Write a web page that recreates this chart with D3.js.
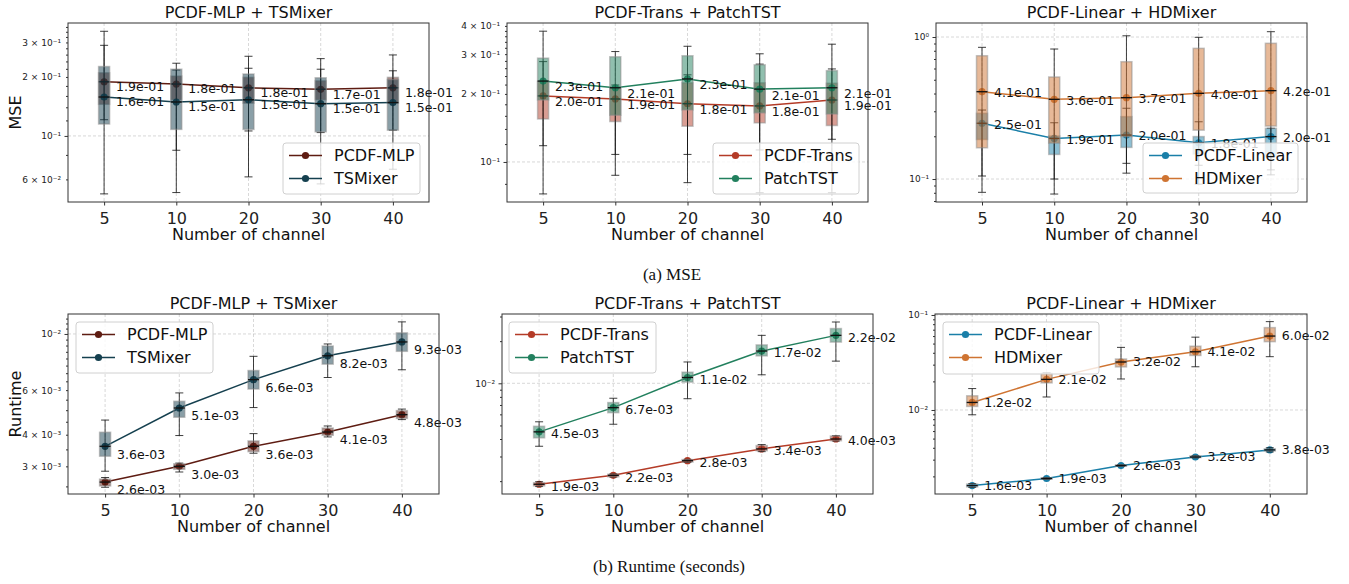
<!DOCTYPE html>
<html>
<head>
<meta charset="utf-8">
<script src="https://cdn.jsdelivr.net/npm/d3@7"></script>
<style>
  body { margin: 0; background: #fff; }
</style>
</head>
<body>
<svg id="chart" width="1349" height="584"></svg>
<script>
var channels = [5, 10, 20, 30, 40];

// MSE, PCDF-MLP + TSMixer
var mlpMseMean = [0.189, 0.184, 0.176, 0.173, 0.176];
var mlpMseQ1   = [0.145, 0.153, 0.147, 0.153, 0.147];
var mlpMseQ3   = [0.210, 0.202, 0.199, 0.191, 0.199];
var mlpMseLo   = [0.121, 0.0845, 0.106, 0.104, 0.107];
var mlpMseHi   = [0.290, 0.217, 0.2215, 0.219, 0.215];
var tsmMseMean = [0.158, 0.149, 0.153, 0.146, 0.148];
var tsmMseQ1   = [0.115, 0.108, 0.108, 0.105, 0.107];
var tsmMseQ3   = [0.226, 0.219, 0.207, 0.198, 0.194];
var tsmMseLo   = [0.0506, 0.0514, 0.0618, 0.0569, 0.0676];
var tsmMseHi   = [0.342, 0.235, 0.255, 0.248, 0.259];

// MSE, PCDF-Trans + PatchTST
var transMseMean = [0.196, 0.190, 0.181, 0.177, 0.188];
var transMseQ1   = [0.155, 0.151, 0.144, 0.149, 0.145];
var transMseQ3   = [0.227, 0.212, 0.224, 0.224, 0.223];
var transMseLo   = [0.0722, 0.0873, 0.081, 0.113, 0.0731];
var transMseHi   = [0.278, 0.219, 0.243, 0.271, 0.258];
var patchMseMean = [0.228, 0.213, 0.233, 0.210, 0.213];
var patchMseQ1   = [0.188, 0.161, 0.170, 0.165, 0.163];
var patchMseQ3   = [0.288, 0.292, 0.295, 0.269, 0.2535];
var patchMseLo   = [0.118, 0.108, 0.108, 0.0731, 0.126];
var patchMseHi   = [0.379, 0.308, 0.325, 0.301, 0.332];

// MSE, PCDF-Linear + HDMixer
var linMseMean = [0.247, 0.193, 0.204, 0.180, 0.199];
var linMseQ1   = [0.190, 0.149, 0.167, 0.150, 0.144];
var linMseQ3   = [0.290, 0.201, 0.275, 0.199, 0.2275];
var linMseLo   = [0.105, 0.100, 0.129, 0.092, 0.116];
var linMseHi   = [0.306, 0.249, 0.315, 0.253, 0.2275];
var hdmMseMean = [0.412, 0.364, 0.374, 0.401, 0.419];
var hdmMseQ1   = [0.166, 0.179, 0.199, 0.221, 0.236];
var hdmMseQ3   = [0.738, 0.523, 0.670, 0.832, 0.903];
var hdmMseLo   = [0.0806, 0.0784, 0.110, 0.125, 0.107];
var hdmMseHi   = [0.846, 0.823, 1.02, 0.995, 1.09];

// Runtime, PCDF-MLP + TSMixer
var mlpTimeMean = [2.6e-3, 3.0e-3, 3.6e-3, 4.1e-3, 4.8e-3];
var mlpTimeQ1   = [2.51e-3, 2.92e-3, 3.43e-3, 3.98e-3, 4.64e-3];
var mlpTimeQ3   = [2.67e-3, 3.07e-3, 3.78e-3, 4.25e-3, 4.98e-3];
var mlpTimeLo   = [2.48e-3, 2.85e-3, 3.38e-3, 3.92e-3, 4.59e-3];
var mlpTimeHi   = [2.71e-3, 3.09e-3, 4.04e-3, 4.33e-3, 5.05e-3];
var tsmTimeMean = [3.6e-3, 5.1e-3, 6.6e-3, 8.2e-3, 9.3e-3];
var tsmTimeQ1   = [3.29e-3, 4.69e-3, 6.06e-3, 7.6e-3, 8.54e-3];
var tsmTimeQ3   = [4.09e-3, 5.42e-3, 7.17e-3, 8.96e-3, 1.01e-2];
var tsmTimeLo   = [2.87e-3, 3.97e-3, 5.12e-3, 6.73e-3, 7.22e-3];
var tsmTimeHi   = [4.57e-3, 5.85e-3, 8.16e-3, 9.13e-3, 1.116e-2];

// Runtime, PCDF-Trans + PatchTST
var transTimeMean = [1.9e-3, 2.2e-3, 2.8e-3, 3.4e-3, 4.0e-3];
var transTimeQ1   = [1.85e-3, 2.15e-3, 2.74e-3, 3.3e-3, 3.89e-3];
var transTimeQ3   = [1.95e-3, 2.24e-3, 2.85e-3, 3.59e-3, 4.2e-3];
var transTimeLo   = [1.83e-3, 2.14e-3, 2.73e-3, 3.25e-3, 3.87e-3];
var transTimeHi   = [1.98e-3, 2.25e-3, 2.86e-3, 3.65e-3, 4.22e-3];
var patchTimeMean = [4.5e-3, 6.7e-3, 1.1e-2, 1.7e-2, 2.2e-2];
var patchTimeQ1   = [4.08e-3, 6.17e-3, 1.02e-2, 1.57e-2, 1.97e-2];
var patchTimeQ3   = [4.93e-3, 7.28e-3, 1.2e-2, 1.88e-2, 2.46e-2];
var patchTimeLo   = [3.55e-3, 5.10e-3, 7.76e-3, 1.15e-2, 1.44e-2];
var patchTimeHi   = [5.31e-3, 7.82e-3, 1.42e-2, 2.2e-2, 2.74e-2];

// Runtime, PCDF-Linear + HDMixer
var linTimeMean = [1.6e-3, 1.9e-3, 2.6e-3, 3.2e-3, 3.8e-3];
var linTimeQ1   = [1.55e-3, 1.87e-3, 2.56e-3, 3.16e-3, 3.7e-3];
var linTimeQ3   = [1.66e-3, 1.93e-3, 2.64e-3, 3.28e-3, 3.9e-3];
var linTimeLo   = [1.53e-3, 1.86e-3, 2.55e-3, 3.14e-3, 3.62e-3];
var linTimeHi   = [1.68e-3, 1.94e-3, 2.65e-3, 3.3e-3, 4.0e-3];
var hdmTimeMean = [1.2e-2, 2.1e-2, 3.2e-2, 4.1e-2, 6.0e-2];
var hdmTimeQ1   = [1.09e-2, 1.93e-2, 2.84e-2, 3.75e-2, 5.24e-2];
var hdmTimeQ3   = [1.41e-2, 2.43e-2, 3.44e-2, 4.69e-2, 7.36e-2];
var hdmTimeLo   = [8.9e-3, 1.37e-2, 2.12e-2, 2.85e-2, 3.64e-2];
var hdmTimeHi   = [1.68e-2, 2.47e-2, 4.56e-2, 5.84e-2, 8.51e-2];

// y tick labels shown on each panel
var mseMlpTicks   = [0.3, 0.2, 0.1, 0.06];
var mseMlpLabels  = ["3 × 10⁻¹", "2 × 10⁻¹", "10⁻¹", "6 × 10⁻²"];
var mseTransTicks  = [0.4, 0.3, 0.2, 0.1];
var mseTransLabels = ["4 × 10⁻¹", "3 × 10⁻¹", "2 × 10⁻¹", "10⁻¹"];
var mseLinTicks   = [1, 0.1];
var mseLinLabels  = ["10⁰", "10⁻¹"];
var timeMlpTicks  = [0.01, 0.006, 0.004, 0.003];
var timeMlpLabels = ["10⁻²", "6 × 10⁻³", "4 × 10⁻³", "3 × 10⁻³"];
var timeTransTicks  = [0.01];
var timeTransLabels = ["10⁻²"];
var timeLinTicks  = [0.1, 0.01];
var timeLinLabels = ["10⁻¹", "10⁻²"];

var colMlp = "#5e1c12", colTsm = "#15404f";
var colTrans = "#b43b27", colPatch = "#22805e";
var colLin = "#1a7fa8", colHdm = "#cf7432";

var sans = "'DejaVu Sans', sans-serif";

function series(name, color, mean, q1, q3, lo, hi) {
    return {name: name, color: color, mean: mean, q1: q1, q3: q3, lo: lo, hi: hi};
}

var panels = [
    {title: "PCDF-MLP + TSMixer", ylabel: "MSE", left: 68, right: 429, top: 23, bottom: 202,
     xDomain: [-0.5, 4.5], yDomain: [0.046, 0.377], ticks: mseMlpTicks, labels: mseMlpLabels,
     legend: [283, 143, 137, 51], labelDy: 5,
     series: [series("PCDF-MLP", colMlp, mlpMseMean, mlpMseQ1, mlpMseQ3, mlpMseLo, mlpMseHi),
              series("TSMixer", colTsm, tsmMseMean, tsmMseQ1, tsmMseQ3, tsmMseLo, tsmMseHi)]},
    {title: "PCDF-Trans + PatchTST", left: 507, right: 868, top: 23, bottom: 202,
     xDomain: [-0.5, 4.5], yDomain: [0.0665, 0.412], ticks: mseTransTicks, labels: mseTransLabels,
     legend: [713, 143, 146, 51], labelDy: 6,
     series: [series("PCDF-Trans", colTrans, transMseMean, transMseQ1, transMseQ3, transMseLo, transMseHi),
              series("PatchTST", colPatch, patchMseMean, patchMseQ1, patchMseQ3, patchMseLo, patchMseHi)]},
    {title: "PCDF-Linear + HDMixer", left: 936, right: 1307, top: 23, bottom: 202,
     xDomain: [-0.637, 4.5], yDomain: [0.0689, 1.255], ticks: mseLinTicks, labels: mseLinLabels,
     legend: [1143, 143, 155, 50], labelDy: 1,
     series: [series("PCDF-Linear", colLin, linMseMean, linMseQ1, linMseQ3, linMseLo, linMseHi),
              series("HDMixer", colHdm, hdmMseMean, hdmMseQ1, hdmMseQ3, hdmMseLo, hdmMseHi)]},
    {title: "PCDF-MLP + TSMixer", ylabel: "Runtime", left: 68, right: 439, top: 314, bottom: 494,
     xDomain: [-0.5, 4.5], yDomain: [0.002333, 0.01199], ticks: timeMlpTicks, labels: timeMlpLabels,
     legend: [76, 322, 137, 51], labelDy: 8,
     series: [series("PCDF-MLP", colMlp, mlpTimeMean, mlpTimeQ1, mlpTimeQ3, mlpTimeLo, mlpTimeHi),
              series("TSMixer", colTsm, tsmTimeMean, tsmTimeQ1, tsmTimeQ3, tsmTimeLo, tsmTimeHi)]},
    {title: "PCDF-Trans + PatchTST", left: 502, right: 873, top: 314, bottom: 494,
     xDomain: [-0.5, 4.5], yDomain: [0.001619, 0.03126], ticks: timeTransTicks, labels: timeTransLabels,
     legend: [509, 322, 147, 51], labelDy: 2,
     series: [series("PCDF-Trans", colTrans, transTimeMean, transTimeQ1, transTimeQ3, transTimeLo, transTimeHi),
              series("PatchTST", colPatch, patchTimeMean, patchTimeQ1, patchTimeQ3, patchTimeLo, patchTimeHi)]},
    {title: "PCDF-Linear + HDMixer", left: 935, right: 1307, top: 314, bottom: 494,
     xDomain: [-0.5, 4.5], yDomain: [0.001305, 0.1024], ticks: timeLinTicks, labels: timeLinLabels,
     legend: [943, 322, 156, 52], labelDy: 0,
     series: [series("PCDF-Linear", colLin, linTimeMean, linTimeQ1, linTimeQ3, linTimeLo, linTimeHi),
              series("HDMixer", colHdm, hdmTimeMean, hdmTimeQ1, hdmTimeQ3, hdmTimeLo, hdmTimeHi)]}
];

function fmtSci(v) {
    var parts = v.toExponential(1).split("e");
    var e = parseInt(parts[1], 10);
    var a = Math.abs(e);
    return parts[0] + "e" + (e < 0 ? "-" : "+") + (a < 10 ? "0" + a : a);
}

function drawPanel(svg, p) {
    var x = d3.scaleLinear().domain(p.xDomain).range([p.left, p.right]);
    var y = d3.scaleLog().domain(p.yDomain).range([p.bottom, p.top]);
    var idx = channels.map(function(d, i) { return i; });
    var g = svg.append("g");

    var allTicks = y.ticks(20).filter(function(d) { return d >= p.yDomain[0] && d <= p.yDomain[1]; });
    var majors = allTicks.filter(function(d) { return Math.abs(Math.log10(d) - Math.round(Math.log10(d))) < 1e-9; });
    var minors = allTicks.filter(function(d) { return majors.indexOf(d) < 0; });
    var labelFor = function(d) {
        for (var i = 0; i < p.ticks.length; i++) {
            if (Math.abs(p.ticks[i] - d) / d < 1e-6) return p.labels[i];
        }
        return "";
    };

    //Grid
    g.append("g").selectAll("line").data(idx).enter().append("line")
        .attr("x1", function(d) { return x(d); }).attr("x2", function(d) { return x(d); })
        .attr("y1", p.top).attr("y2", p.bottom)
        .style("stroke", "#b0b0b0").style("stroke-width", 0.8)
        .style("stroke-dasharray", "3,2").style("opacity", 0.6);
    g.append("g").selectAll("line").data(majors).enter().append("line")
        .attr("x1", p.left).attr("x2", p.right)
        .attr("y1", function(d) { return y(d); }).attr("y2", function(d) { return y(d); })
        .style("stroke", "#b0b0b0").style("stroke-width", 0.8)
        .style("stroke-dasharray", "3,2").style("opacity", 0.6);

    //Series: line + markers, then the box plot on top
    var bw = 11, cw = 8;
    p.series.forEach(function(s) {
        var line = d3.line()
            .x(function(d, i) { return x(i); })
            .y(function(d) { return y(d); });
        g.append("path").datum(s.mean)
            .attr("d", line)
            .style("fill", "none").style("stroke", s.color).style("stroke-width", 1.5);
        g.append("g").selectAll("circle").data(s.mean).enter().append("circle")
            .attr("cx", function(d, i) { return x(i); })
            .attr("cy", function(d) { return y(d); })
            .attr("r", 3.6)
            .style("fill", s.color);

        var bg = g.append("g");
        bg.selectAll("line.whisk").data(idx).enter().append("line")
            .attr("x1", function(i) { return x(i); }).attr("x2", function(i) { return x(i); })
            .attr("y1", function(i) { return y(s.hi[i]); }).attr("y2", function(i) { return y(s.lo[i]); })
            .style("stroke", "#111").style("stroke-width", 1).style("opacity", 0.8);
        bg.selectAll("line.caphi").data(idx).enter().append("line")
            .attr("x1", function(i) { return x(i) - cw / 2; }).attr("x2", function(i) { return x(i) + cw / 2; })
            .attr("y1", function(i) { return y(s.hi[i]); }).attr("y2", function(i) { return y(s.hi[i]); })
            .style("stroke", "#111").style("stroke-width", 1).style("opacity", 0.8);
        bg.selectAll("line.caplo").data(idx).enter().append("line")
            .attr("x1", function(i) { return x(i) - cw / 2; }).attr("x2", function(i) { return x(i) + cw / 2; })
            .attr("y1", function(i) { return y(s.lo[i]); }).attr("y2", function(i) { return y(s.lo[i]); })
            .style("stroke", "#111").style("stroke-width", 1).style("opacity", 0.8);
        bg.selectAll("rect").data(idx).enter().append("rect")
            .attr("x", function(i) { return x(i) - bw / 2; })
            .attr("y", function(i) { return y(s.q3[i]); })
            .attr("width", bw)
            .attr("height", function(i) { return y(s.q1[i]) - y(s.q3[i]); })
            .style("fill", s.color).style("fill-opacity", 0.5)
            .style("stroke", "#8a8a8a").style("stroke-opacity", 0.5).style("stroke-width", 1.5);
        bg.selectAll("line.med").data(idx).enter().append("line")
            .attr("x1", function(i) { return x(i) - bw / 2; }).attr("x2", function(i) { return x(i) + bw / 2; })
            .attr("y1", function(i) { return y(s.mean[i]); }).attr("y2", function(i) { return y(s.mean[i]); })
            .style("stroke", "#111").style("stroke-width", 1.3);
    });

    //Value labels
    p.series.forEach(function(s) {
        g.append("g").selectAll("text").data(s.mean).enter().append("text")
            .attr("x", function(d, i) { return x(i) + 12; })
            .attr("y", function(d) { return y(d) + p.labelDy; })
            .attr("dy", "0.35em")
            .style("font-family", sans).style("font-size", "12.5px").style("fill", "#111")
            .text(function(d) { return fmtSci(d); });
    });

    //Frame
    g.append("rect")
        .attr("x", p.left).attr("y", p.top)
        .attr("width", p.right - p.left).attr("height", p.bottom - p.top)
        .style("fill", "none").style("stroke", "#333").style("stroke-width", 1);

    //Axes
    var xAxis = g.append("g").attr("transform", "translate(0," + p.bottom + ")")
        .call(d3.axisBottom(x).tickValues(idx).tickFormat(function(i) { return channels[i]; })
            .tickSize(3.5).tickPadding(7));
    var yMinor = g.append("g").attr("transform", "translate(" + p.left + ",0)")
        .call(d3.axisLeft(y).tickValues(minors).tickFormat(labelFor).tickSize(2).tickPadding(5));
    var yMajor = g.append("g").attr("transform", "translate(" + p.left + ",0)")
        .call(d3.axisLeft(y).tickValues(majors).tickFormat(labelFor).tickSize(3.5).tickPadding(3.5));
    [xAxis, yMinor, yMajor].forEach(function(a) {
        a.select(".domain").remove();
        a.selectAll("line").style("stroke", "#333");
        a.selectAll("text").style("font-family", sans).style("fill", "#222");
    });
    xAxis.selectAll("text").style("font-size", "16px");
    yMinor.selectAll("text").style("font-size", "9px");
    yMajor.selectAll("text").style("font-size", "9px");

    //Titles and labels
    g.append("text")
        .attr("x", (p.left + p.right) / 2).attr("y", p.top - 5)
        .attr("text-anchor", "middle")
        .style("font-family", sans).style("font-size", "16px").style("fill", "#111")
        .text(p.title);
    g.append("text")
        .attr("x", (p.left + p.right) / 2).attr("y", p.bottom + 38)
        .attr("text-anchor", "middle")
        .style("font-family", sans).style("font-size", "16px").style("fill", "#111")
        .text("Number of channel");
    if (p.ylabel) {
        g.append("text")
            .attr("transform", "translate(21," + ((p.top + p.bottom) / 2) + ") rotate(-90)")
            .attr("text-anchor", "middle")
            .style("font-family", sans).style("font-size", "16px").style("fill", "#111")
            .text(p.ylabel);
    }

    //Legend
    var L = p.legend;
    var lg = g.append("g");
    lg.append("rect")
        .attr("x", L[0]).attr("y", L[1]).attr("width", L[2]).attr("height", L[3])
        .attr("rx", 3)
        .style("fill", "#fff").style("fill-opacity", 0.8)
        .style("stroke", "#d0d0d0").style("stroke-width", 1);
    p.series.forEach(function(s, k) {
        var cy = L[1] + 12.5 + k * 23;
        lg.append("line")
            .attr("x1", L[0] + 6).attr("x2", L[0] + 39).attr("y1", cy).attr("y2", cy)
            .style("stroke", s.color).style("stroke-width", 1.5);
        lg.append("circle").attr("cx", L[0] + 22.5).attr("cy", cy).attr("r", 3.6).style("fill", s.color);
        lg.append("text")
            .attr("x", L[0] + 51).attr("y", cy).attr("dy", "0.35em")
            .style("font-family", sans).style("font-size", "16px").style("fill", "#111")
            .text(s.name);
    });
}

var svg = d3.select("#chart");
panels.forEach(function(p) { drawPanel(svg, p); });

//Captions
svg.append("text").attr("x", 672).attr("y", 280).attr("text-anchor", "middle")
    .style("font-family", "'Liberation Serif', serif").style("font-size", "17px").style("fill", "#111")
    .text("(a) MSE");
svg.append("text").attr("x", 669).attr("y", 572).attr("text-anchor", "middle")
    .style("font-family", "'Liberation Serif', serif").style("font-size", "17px").style("fill", "#111")
    .text("(b) Runtime (seconds)");
</script>
</body>
</html>
